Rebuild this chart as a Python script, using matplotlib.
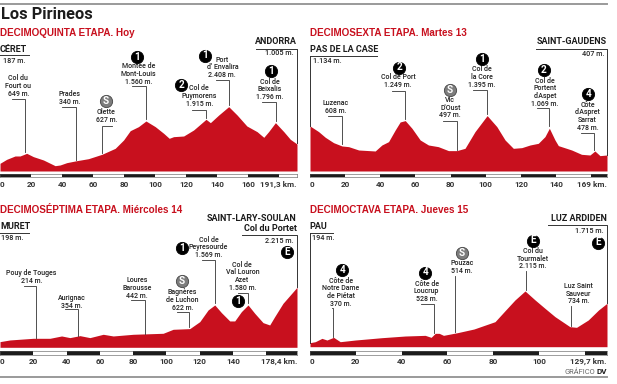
#!/usr/bin/env python
"""Perfiles de las etapas pirenaicas: four stage profiles with climbs."""
import logging

import matplotlib
matplotlib.use("Agg")
import matplotlib.pyplot as plt

logging.getLogger("matplotlib.font_manager").setLevel(logging.ERROR)
plt.rcParams["font.family"] = ["Liberation Sans Narrow", "Roboto", "DejaVu Sans"]

W, H = 617, 384
RED = "#c8101e"
INK = "#1c1c1c"

# --- data: profiles (km, metres as drawn) ----------------------------------
s15_km = [0, 4.3, 9.7, 12.9, 17.2, 21.5, 28, 35.5, 38.7, 43, 49.5, 57, 65.6, 74.2, 79.6, 83.9,
          89.2, 94, 100, 105.4, 109, 111.8, 118.3, 124.7, 132.7, 135.5, 140.9, 147.3, 152.7,
          159, 165.6, 169.9, 173, 177.4, 182.8, 187, 191.3]
s15_m = [289, 439, 565, 565, 665, 540, 414, 200, 226, 314, 389, 464, 627, 853, 1167, 1518,
         1669, 1882, 1669, 1418, 1230, 1292, 1317, 1543, 1945, 1819, 2108, 2422, 2108,
         1694, 1480, 1267, 1480, 1819, 1480, 1192, 1016]
s16_km = [0, 4.9, 8.7, 13.4, 18.2, 22, 27.7, 37.1, 40.9, 44.7, 48.5, 51.3, 54.2, 58, 62.7, 67.4,
          73, 78.8, 83.5, 88.2, 93.9, 100.8, 106.3, 111, 115.7, 120.5, 125.2, 129.9, 133.7,
          136.2, 139.4, 141.3, 148.9, 154.5, 159.3, 162.1, 165, 169]
s16_m = [1134, 992, 849, 714, 630, 613, 529, 504, 655, 739, 1034, 1235, 1269, 1076, 781, 655,
         613, 513, 513, 571, 992, 1395, 1118, 781, 571, 588, 655, 697, 866,
         1076, 781, 639, 529, 420, 403, 504, 387, 403]
s17_km = [0, 6, 20, 30, 37, 42, 48, 54, 62, 68, 80, 98, 104, 114, 120, 125, 129, 133, 138, 141,
          145, 149, 153, 158, 162, 165, 170, 178.4]
s17_m = [209, 271, 332, 332, 418, 357, 430, 357, 480, 418, 480, 517, 664, 689, 947, 1378, 1562,
         1279, 972, 972, 1316, 1562, 1255, 910, 824, 1132, 1624, 2214]
s18_km = [0, 2.3, 5.2, 7.4, 10.3, 13.2, 19.8, 31.4, 41.6, 50.3, 52.9, 54.7, 56.4, 58.3, 64.4,
          71.6, 80.8, 85.2, 89.5, 93.9, 98.3, 102.6, 107, 113.5, 116.4, 121.5, 126, 129.7]
s18_m = [153, 191, 318, 255, 357, 191, 255, 344, 408, 433, 357, 510, 510, 433, 535,
         675, 955, 1376, 1783, 2127, 1783, 1465, 1146, 764, 739, 1019, 1401, 1656]

# --- data: climbs ---------------------------------------------------------
s15_labels = ["Col du\nFourt ou\n649 m.", "Prades\n340 m.", "Olette\n627 m.",
              "Montée de\nMont-Louis\n1.560 m.", "Col de\nPuymorens\n1.915 m.",
              "Port\nd' Envalira\n2.408 m.", "Col de\nBeixalis\n1.796 m."]
s15_climb_km = [16.3, 49.2, 65.6, 93.8, 132.7, 147.3, 177.8]
s15_climb_m = [728, 414, 690, 1957, 1982, 2484, 1895]
s15_cats = ["S", "1", "2", "1", "1"]

s16_labels = ["Luzenac\n608 m.", "Col de Port\n1.249 m.", "Vic\nD'Oust\n497 m.",
              "Col de\nla Core\n1.395 m.", "Col de\nPortent\nd'Aspet\n1.069 m.",
              "Côte\nd'Aspret\nSarrat\n478 m."]
s16_climb_km = [18.4, 54.2, 83.5, 100.8, 136.2, 161.4]
s16_climb_m = [681, 1302, 529, 1437, 1134, 529]
s16_cats = ["2", "S", "1", "2", "4"]

s17_labels = ["Pouy de Touges\n214 m.", "Aurignac\n354 m.", "Loures\nBarousse\n442 m.",
              "Bagnères\nde Luchon\n622 m.", "Col de\nPeyresourde\n1.569 m.",
              "Col de\nVal Louron\nAzet\n1.580 m."]
s17_climb_km = [21.8, 46.7, 86.8, 113.6, 129.3, 149]
s17_climb_m = [357, 418, 492, 763, 1624, 1624]
s17_cats = ["S", "1", "1", "E"]

s18_labels = ["Côte de\nNotre Dame\nde Piétat\n370 m.", "Côte de\nLoucrup\n528 m.",
              "Pouzac\n514 m.", "Col du\nTourmalet\n2.115 m.", "Luz Saint\nSauveur\n734 m."]
s18_climb_km = [9.9, 54.2, 63.5, 94.2, 113.8]
s18_climb_m = [382, 535, 573, 2166, 803]
s18_cats = ["4", "4", "S", "E", "E"]

s15_ticks = [0, 20, 40, 60, 80, 100, 120, 140, 160, 191.3]
s16_ticks = [0, 20, 40, 60, 80, 100, 120, 140, 169]
s17_ticks = [0, 20, 40, 60, 80, 100, 120, 140, 178.4]
s18_ticks = [0, 20, 40, 60, 80, 100, 129.7]
s15_ticklabels = ["0", "20", "40", "60", "80", "100", "120", "140", "160", "191,3 km."]
s16_ticklabels = ["0", "20", "40", "60", "80", "100", "120", "140", "169 km."]
s17_ticklabels = ["0", "20", "40", "60", "80", "100", "120", "140", "178,4 km."]
s18_ticklabels = ["0", "20", "40", "60", "80", "100", "129,7 km."]

s15_title, s16_title = "DECIMOQUINTA ETAPA. Hoy", "DECIMOSEXTA ETAPA. Martes 13"
s17_title, s18_title = "DECIMOSÉPTIMA ETAPA. Miércoles 14", "DECIMOCTAVA ETAPA. Jueves 15"

# --- layout, in pixels of the 617x384 picture -------------------------------
fig = plt.figure(figsize=(W / 100, H / 100), dpi=100, facecolor="white")
over = fig.add_axes([0, 0, 1, 1], zorder=5)
over.set_xlim(0, W)
over.set_ylim(H, 0)
over.axis("off")
over.patch.set_alpha(0)


def panel(left, right, base, scale, km, m, ticks, ticklabels, bar_top):
    """Profile axes plus the black/white km strip under it."""
    top = base - 120
    ax = fig.add_axes([left / W, 1 - base / H, (right - left) / W, (base - top) / H])
    ax.fill_between(km, m, 0, color=RED, lw=0)
    ax.set_xlim(0, km[-1])
    ax.set_ylim(0, 120 / scale)
    ax.axis("off")

    strip = fig.add_axes([left / W, 1 - (bar_top + 3.6) / H, (right - left) / W, 3.6 / H])
    edges = list(range(0, int(km[-1]), 20)) + [km[-1]]
    for i in range(len(edges) - 1):
        strip.barh(0, edges[i + 1] - edges[i], left=edges[i], height=1,
                   color=INK if i % 2 == 0 else "white", lw=0)
    strip.set_xlim(0, km[-1])
    strip.set_ylim(-0.5, 0.5)
    strip.set_yticks([])
    strip.set_xticks(ticks, ticklabels, fontsize=5.9, fontweight="bold", color="#333333")
    strip.tick_params(axis="x", length=0, pad=2.6)
    strip.get_xticklabels()[0].set_ha("left")
    strip.get_xticklabels()[-1].set_ha("right")
    for sp in strip.spines.values():
        sp.set_linewidth(0.4)
        sp.set_color("#555555")
    return ax


def climbs(ax, ox, oy, labels, c_km, c_m, spots, badges, cats):
    # spots: label centre and leader stub in 3x crop coordinates
    for lab, k, e, (cx, cy, stub, ztop) in zip(labels, c_km, c_m, spots):
        px = over.transData.inverted().transform(ax.transData.transform((k, e)))
        ytop = oy + ztop / 3
        over.plot([ox + stub / 3, px[0], px[0]], [ytop, ytop, px[1]],
                  color="#333333", lw=0.6, solid_joinstyle="miter")
        over.text(ox + cx / 3, oy + cy / 3, lab, ha="center", va="center", fontsize=5.0,
                  fontweight="medium", color="#222222", linespacing=0.95)
    for (bx, by), cat in zip(badges, cats):
        grey = cat == "S"
        over.scatter([ox + bx / 3], [oy + by / 3], s=78, color="#7d7d7d" if grey else "black",
                     edgecolors="#444444" if grey else "black", lw=0.6, zorder=6)
        over.text(ox + bx / 3, oy + by / 3 - 0.2, cat, ha="center", va="center", color="white",
                  fontsize=7.2, fontweight="bold", zorder=7)


def ends(ox, oy, start, s_h, s_x, s_y, s_rule, finish, f_h, f_x, f_y, f_rule, f_bottom, s_bottom=None):
    # start / finish headings with the rule above the profile
    over.text(ox + s_x / 3, oy + s_y / 3, start, fontsize=6.5, fontweight="bold", color=INK,
              ha="left", va="center")
    over.plot([ox + s_x / 3, ox + s_rule[0] / 3], [oy + s_rule[1] / 3] * 2, color="#333333", lw=0.7)
    over.text(ox + s_h[1] / 3, oy + s_h[2] / 3, s_h[0], fontsize=5.2, fontweight="medium",
              color="#222222", ha="left", va="center")
    over.text(ox + f_x / 3, oy + f_y / 3, finish, fontsize=6.5, fontweight="bold", color=INK,
              ha="right", va="center", linespacing=1.05)
    over.plot([ox + f_rule[0] / 3, ox + f_x / 3, ox + f_x / 3],
              [oy + f_rule[1] / 3, oy + f_rule[1] / 3, oy + f_bottom / 3], color="#333333", lw=0.7)
    over.text(ox + (f_x - 8) / 3, oy + f_h[1] / 3, f_h[0], fontsize=5.2, fontweight="medium",
              color="#222222", ha="right", va="center")
    if s_bottom:
        over.plot([ox + s_x / 3] * 2, [oy + s_rule[1] / 3, oy + s_bottom / 3],
                  color="#333333", lw=0.7)


ax15 = panel(0, 297, 171, 0.02657, s15_km, s15_m, s15_ticks, s15_ticklabels, 173.5)
ax16 = panel(310, 607, 171, 0.0397, s16_km, s16_m, s16_ticks, s16_ticklabels, 173.5)
ax17 = panel(0, 297, 347.3, 0.0271, s17_km, s17_m, s17_ticks, s17_ticklabels, 351)
ax18 = panel(310, 607, 346.7, 0.0262, s18_km, s18_m, s18_ticks, s18_ticklabels, 351)

climbs(ax15, 0, 0, s15_labels, s15_climb_km, s15_climb_m,
       [(55, 258, 35, 296), (208, 295, 185, 320), (319, 348, 335, 377), (416, 222, 395, 259),
        (598, 288, 575, 330), (667, 202, 648, 240), (809, 268, 787, 307)],
       [(317, 304), (411, 172), (544, 256), (616, 167), (813, 214)], s15_cats)
climbs(ax16, 305, 0, s16_labels, s16_climb_km, s16_climb_m,
       [(91, 322, 70, 349), (279, 244, 260, 272), (436, 323, 415, 362), (530, 231, 505, 270),
        (720, 277, 695, 323), (848, 349, 828, 398)],
       [(283, 203), (435, 270), (530, 177), (716, 210), (850, 282)], s16_cats)
climbs(ax17, 0, 190, s17_labels, s17_climb_km, s17_climb_m,
       [(94, 260, 72, 288), (214, 335, 195, 358), (411, 294, 393, 330), (548, 330, 530, 366),
        (626, 172, 607, 211), (727, 259, 715, 308)],
       [(545, 274), (545, 174), (714, 333), (862, 187)], s17_cats)
climbs(ax18, 305, 190, s18_labels, s18_climb_km, s18_climb_m,
       [(108, 307, 82, 355), (365, 304, 347, 342), (470, 230, 451, 257), (684, 206, 662, 244),
        (820, 311, 797, 347)],
       [(112, 240), (361, 248), (471, 190), (683, 152), (879, 158)], s18_cats)

ends(0, 0, "CÉRET", ("187 m.", 8, 182), 0, 148, (87, 166), "ANDORRA", ("1.005 m.", 160), 890, 126,
     (767, 146), 430)
ends(305, 0, "PAS DE LA CASE", ("1.134 m.", 24, 183), 14, 148, (217, 167), "SAINT-GAUDENS",
     ("407 m.", 162), 906, 126, (694, 146), 465, s_bottom=378)
ends(0, 190, "MURET", ("198 m.", 4, 144), 0, 110, (87, 128), "SAINT-LARY-SOULAN\nCol du Portet",
     ("2.215 m.", 154), 890, 100, (727, 135), 292)
ends(305, 190, "PAU", ("194 m.", 22, 144), 14, 110, (85, 128), "LUZ ARDIDEN",
     ("1.715 m.", 124), 905, 86, (730, 105), 340, s_bottom=458)

# --- titles, rules, credit -------------------------------------------------
over.plot([0, 607], [3.8, 3.8], color="#9a9a9a", lw=1.4)
over.plot([0, 607], [376.5, 376.5], color="#9a9a9a", lw=1.4)
over.text(1, 14.5, "Los Pirineos", fontsize=11.8, fontweight="bold", color=INK, ha="left", va="center")
for x, y, t in [(0, 33, s15_title), (310, 33, s16_title), (0, 210, s17_title), (310, 210, s18_title)]:
    over.text(x, y, t, fontsize=7.1, fontweight="bold", color=RED, ha="left", va="center",
              family=["Liberation Sans", "DejaVu Sans"])
over.text(595, 372, "GRÁFICO", fontsize=5.4, color="#666666", ha="right", va="center")
over.text(607, 372, "DV", fontsize=5.8, fontweight="bold", color=INK, ha="right", va="center")

fig.savefig("out.png", dpi=100)
